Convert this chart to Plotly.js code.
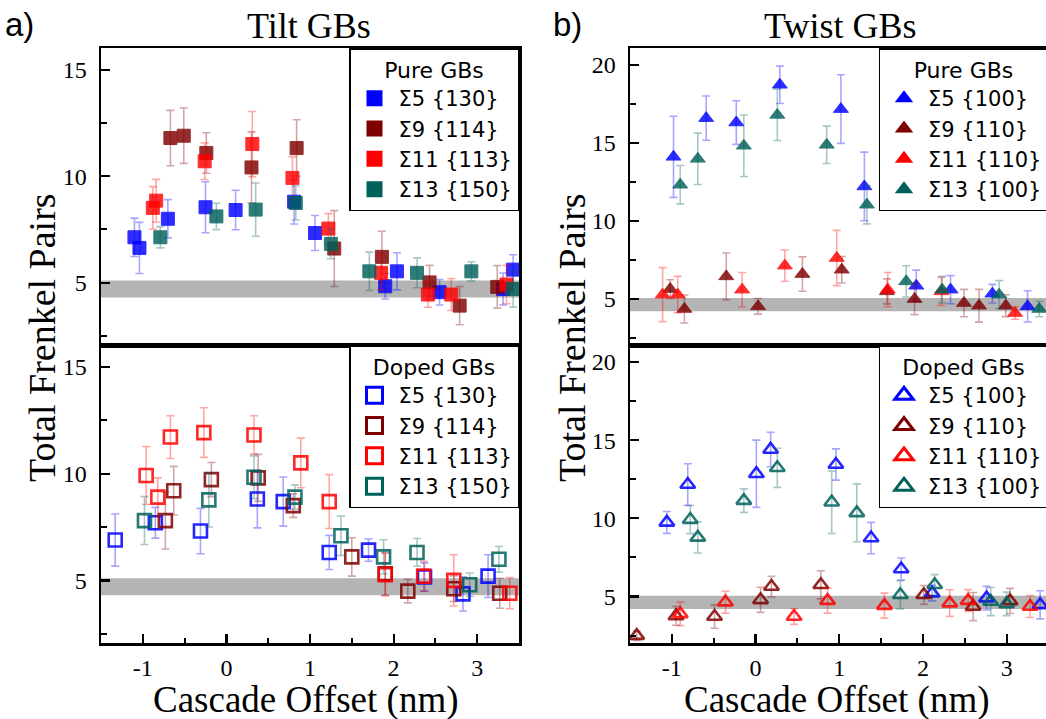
<!DOCTYPE html>
<html>
<head>
<meta charset="utf-8">
<script src="https://cdn.plot.ly/plotly-3.0.1.min.js"></script>
<style>
  html, body { margin: 0; padding: 0; background: #fff; overflow: hidden; }
  #chart { width: 1050px; height: 719px; }
</style>
</head>
<body>
<div id="chart"></div>
<script>
// ---- Tilt GBs, pure ----
const tiltPureS5X  = [-1.10, -1.04, -0.70, -0.25, 0.11, 0.81, 1.06, 1.90, 2.04, 2.55, 3.31, 3.43];
const tiltPureS5Y  = [7.13, 6.63, 8.00, 8.54, 8.41, 8.80, 7.33, 4.83, 5.53, 4.55, 4.70, 5.61];
const tiltPureS5E  = [0.90, 1.20, 0.90, 1.20, 0.93, 1.05, 0.82, 0.60, 0.87, 0.60, 0.75, 0.70];
const tiltPureS9X  = [-0.67, -0.51, -0.24, 0.30, 0.84, 1.29, 1.86, 2.43, 2.79, 3.24];
const tiltPureS9Y  = [11.79, 11.90, 11.09, 10.41, 11.32, 6.60, 6.21, 5.01, 3.92, 4.80];
const tiltPureS9E  = [1.30, 1.30, 0.95, 1.67, 1.33, 1.78, 1.20, 0.80, 0.90, 1.00];
const tiltPureS11X = [-0.88, -0.84, -0.26, 0.31, 0.79, 1.22, 1.85, 2.41, 2.69, 3.35];
const tiltPureS11Y = [8.51, 8.85, 10.70, 11.51, 9.92, 7.54, 5.46, 4.44, 4.44, 4.91];
const tiltPureS11E = [1.00, 1.00, 0.86, 1.53, 1.00, 0.70, 0.80, 0.60, 0.75, 0.90];
const tiltPureS13X = [-0.79, -0.12, 0.35, 0.83, 1.25, 1.71, 2.28, 2.93, 3.43];
const tiltPureS13Y = [7.13, 8.11, 8.43, 8.74, 6.82, 5.53, 5.46, 5.53, 4.70];
const tiltPureS13E = [0.50, 0.62, 1.25, 0.80, 0.70, 0.90, 0.70, 0.45, 0.85];

// ---- Tilt GBs, doped ----
const tiltDopedS5X  = [-1.33, -0.85, -0.31, 0.37, 0.68, 1.23, 1.70, 2.37, 2.83, 3.13];
const tiltDopedS5Y  = [6.89, 7.70, 7.31, 8.81, 8.69, 6.31, 6.42, 5.16, 4.37, 5.20];
const tiltDopedS5E  = [1.22, 0.72, 1.06, 1.35, 1.15, 0.80, 0.52, 0.66, 0.80, 1.00];
const tiltDopedS9X  = [-0.73, -0.63, -0.18, 0.38, 0.80, 1.50, 1.90, 2.17, 2.72, 3.27];
const tiltDopedS9Y  = [7.80, 9.20, 9.72, 9.80, 8.50, 6.10, 5.31, 4.50, 4.61, 4.40];
const tiltDopedS9E  = [1.33, 1.14, 0.80, 1.10, 0.55, 0.90, 1.00, 0.55, 0.60, 0.70];
const tiltDopedS11X = [-0.96, -0.82, -0.67, -0.27, 0.33, 0.89, 1.23, 1.90, 2.36, 2.72, 3.39];
const tiltDopedS11Y = [9.91, 8.90, 11.71, 11.92, 11.81, 10.50, 8.69, 5.27, 5.20, 5.00, 4.40];
const tiltDopedS11E = [1.36, 0.90, 1.00, 1.16, 0.90, 1.16, 1.26, 1.00, 0.70, 1.20, 0.73];
const tiltDopedS13X = [-0.98, -0.21, 0.33, 0.82, 1.37, 1.88, 2.28, 2.91, 3.26];
const tiltDopedS13Y = [7.80, 8.77, 9.83, 8.90, 7.09, 6.10, 6.31, 4.80, 5.99];
const tiltDopedS13E = [1.12, 1.27, 1.00, 0.57, 0.92, 0.80, 0.65, 0.55, 0.60];

// ---- Twist GBs, pure ----
const twistPureS5X  = [-0.98, -0.59, -0.23, 0.29, 1.02, 1.30, 1.92, 2.33, 2.83, 3.25];
const twistPureS5Y  = [14.10, 16.58, 16.30, 18.72, 17.16, 12.20, 5.83, 5.58, 5.32, 4.51];
const twistPureS5E  = [2.60, 1.42, 1.40, 1.20, 2.20, 2.20, 1.00, 0.90, 0.60, 1.00];
const twistPureS9X  = [-1.02, -0.85, -0.35, 0.03, 0.56, 1.03, 1.57, 1.90, 2.49, 2.67, 2.99];
const twistPureS9Y  = [5.62, 4.34, 6.43, 4.51, 6.58, 6.86, 5.47, 4.98, 4.72, 4.55, 4.55];
const twistPureS9E  = [0.60, 0.90, 1.50, 0.50, 1.10, 0.85, 0.80, 1.00, 0.88, 1.05, 0.70];
const twistPureS11X = [-1.11, -0.93, -0.16, 0.35, 0.97, 1.58, 2.22, 3.10];
const twistPureS11Y = [5.26, 5.26, 5.58, 7.12, 7.61, 5.58, 5.47, 4.08];
const twistPureS11E = [1.73, 1.17, 1.10, 1.00, 1.77, 1.10, 0.90, 0.40];
const twistPureS13X = [-0.90, -0.69, -0.14, 0.26, 0.85, 1.33, 1.80, 2.23, 2.91, 3.39];
const twistPureS13Y = [12.31, 13.97, 14.81, 16.79, 14.87, 11.03, 6.11, 5.58, 5.26, 4.34];
const twistPureS13E = [1.23, 1.65, 1.97, 1.64, 1.20, 1.23, 1.00, 0.85, 0.90, 0.50];

// ---- Twist GBs, doped ----
const twistDopedS5X  = [-1.06, -0.81, 0.01, 0.18, 0.96, 1.38, 1.74, 2.11, 2.76, 3.40];
const twistDopedS5Y  = [9.74, 12.16, 12.85, 14.40, 13.44, 8.74, 6.76, 5.22, 4.90, 4.47];
const twistDopedS5E  = [0.70, 1.33, 2.15, 1.10, 1.00, 1.00, 0.70, 0.50, 0.75, 0.90];
const twistDopedS9X  = [-1.42, -0.95, -0.49, 0.06, 0.19, 0.78, 2.01, 2.60, 3.04];
const twistDopedS9Y  = [2.50, 3.76, 3.72, 4.79, 5.64, 5.75, 5.11, 4.36, 4.72];
const twistDopedS9E  = [0.30, 0.60, 0.75, 0.80, 0.66, 0.90, 0.60, 0.90, 0.80];
const twistDopedS11X = [-0.90, -0.36, 0.46, 0.86, 1.54, 2.32, 2.54, 3.28];
const twistDopedS11Y = [3.89, 4.64, 3.72, 4.74, 4.42, 4.58, 4.74, 4.36];
const twistDopedS11E = [0.75, 0.70, 0.50, 0.80, 0.80, 0.85, 0.70, 0.70];
const twistDopedS13X = [-0.78, -0.69, -0.14, 0.26, 0.91, 1.21, 1.73, 2.14, 2.81, 3.00];
const twistDopedS13Y = [9.92, 8.78, 11.13, 13.23, 11.03, 10.35, 5.11, 5.75, 4.68, 4.53];
const twistDopedS13E = [0.90, 1.00, 0.75, 1.25, 2.00, 1.85, 0.90, 0.65, 0.90, 0.75];

// legend labels, x tick labels and reference (perfect-crystal) bands
const tiltLabels  = ['Σ5 {130}', 'Σ9 {114}', 'Σ11 {113}', 'Σ13 {150}'];
const twistLabels = ['Σ5 {100}', 'Σ9 {110}', 'Σ11 {110}', 'Σ13 {100}'];
const offsetTicks = [-1, 0, 1, 2, 3];
const offsetTickText = ['-1', '0', '1', '2', '3'];
const tiltBand  = [4.3, 5.1];
const twistBand = [4.2, 5.05];

// ---------- drawing ----------
const W = 1050, H = 719;
const COLORS = ['#0000FF', '#7F0000', '#FF0000', '#00605A'];
const ERR_COLORS = ['rgba(0,0,255,0.35)', 'rgba(127,0,0,0.35)', 'rgba(255,0,0,0.35)', 'rgba(0,96,90,0.35)'];
const SERIF = 'Liberation Serif, Times New Roman, serif';
const SANS = 'DejaVu Sans, Arial, sans-serif';

const px = v => v / W;
const py = v => 1 - v / H;

function series(xs, ys, es, i, symbol, xa, ya) {
  const open = symbol.endsWith('-open');
  return {
    type: 'scatter', mode: 'markers', x: xs, y: ys,
    xaxis: xa, yaxis: ya, showlegend: false, hoverinfo: 'x+y',
    marker: open
      ? { symbol: symbol, size: 13, color: COLORS[i], opacity: 0.85, line: { width: 2.6, color: COLORS[i] } }
      : { symbol: symbol, size: 13, color: COLORS[i], opacity: 0.82, line: { width: 1, color: COLORS[i] } },
    error_y: { type: 'data', array: es, visible: true, color: ERR_COLORS[i], thickness: 1.6, width: 4 }
  };
}

function legendKey(label, i, symbol, xa, ya, legendId) {
  const open = symbol.endsWith('-open');
  return {
    type: 'scatter', mode: 'markers', x: [null], y: [null], name: label,
    xaxis: xa, yaxis: ya, legend: legendId, showlegend: true, hoverinfo: 'skip',
    marker: { symbol: symbol, size: 20, color: COLORS[i], line: { width: open ? 3 : 0, color: COLORS[i] } }
  };
}

const groups = [
  { xa: 'x2', ya: 'y2', sym: 'square',           leg: 'legend',  labels: tiltLabels,
    d: [[tiltPureS5X, tiltPureS5Y, tiltPureS5E], [tiltPureS9X, tiltPureS9Y, tiltPureS9E],
        [tiltPureS11X, tiltPureS11Y, tiltPureS11E], [tiltPureS13X, tiltPureS13Y, tiltPureS13E]] },
  { xa: 'x',  ya: 'y',  sym: 'square-open',      leg: 'legend2', labels: tiltLabels,
    d: [[tiltDopedS5X, tiltDopedS5Y, tiltDopedS5E], [tiltDopedS9X, tiltDopedS9Y, tiltDopedS9E],
        [tiltDopedS11X, tiltDopedS11Y, tiltDopedS11E], [tiltDopedS13X, tiltDopedS13Y, tiltDopedS13E]] },
  { xa: 'x3', ya: 'y3', sym: 'triangle-up',      leg: 'legend3', labels: twistLabels,
    d: [[twistPureS5X, twistPureS5Y, twistPureS5E], [twistPureS9X, twistPureS9Y, twistPureS9E],
        [twistPureS11X, twistPureS11Y, twistPureS11E], [twistPureS13X, twistPureS13Y, twistPureS13E]] },
  { xa: 'x4', ya: 'y4', sym: 'triangle-up-open', leg: 'legend4', labels: twistLabels,
    d: [[twistDopedS5X, twistDopedS5Y, twistDopedS5E], [twistDopedS9X, twistDopedS9Y, twistDopedS9E],
        [twistDopedS11X, twistDopedS11Y, twistDopedS11E], [twistDopedS13X, twistDopedS13Y, twistDopedS13E]] }
];

const traces = [];
groups.forEach(g => {
  g.d.forEach((s, i) => traces.push(series(s[0], s[1], s[2], i, g.sym, g.xa, g.ya)));
  g.labels.forEach((lab, i) => traces.push(legendKey(lab, i, g.sym, g.xa, g.ya, g.leg)));
});

const axisBase = {
  showline: true, linecolor: '#000', linewidth: 2.5, mirror: true,
  showgrid: false, zeroline: false, fixedrange: true,
  ticks: 'inside', ticklen: 9, tickwidth: 2.2, tickcolor: '#000',
  tickfont: { family: SERIF, size: 24, color: '#000' }
};
const xBottom = Object.assign({}, axisBase, {
  range: [-1.5, 3.5], tickmode: 'array', tickvals: offsetTicks, ticktext: offsetTickText,
  ticklabelstandoff: 2,
  minor: { ticks: 'inside', ticklen: 5, tickwidth: 2, tickcolor: '#000', dtick: 0.5, tick0: 0 }
});
const xTop = Object.assign({}, axisBase, { range: [-1.5, 3.5], ticks: '', showticklabels: false });
const yTilt = Object.assign({}, axisBase, {
  range: [2.07, 16.02], tick0: 0, dtick: 5, ticklabelstandoff: 7,
  minor: { ticks: 'inside', ticklen: 6, tickwidth: 2, tickcolor: '#000', dtick: 2.5, tick0: 0 }
});
const yTwist = Object.assign({}, axisBase, {
  range: [2.03, 21.08], tick0: 0, dtick: 5, ticklabelstandoff: 7,
  minor: { ticks: 'inside', ticklen: 6, tickwidth: 2, tickcolor: '#000', dtick: 2.5, tick0: 0 }
});

const domA = [px(101), px(519)];
const domB = [px(630), px(1048.5)];
const domTop = [py(345), py(48)];
const domBot = [py(643), py(345)];

function legendBox(title, yTop, xRight) {
  return {
    x: xRight, xanchor: 'right', y: yTop, yanchor: 'top',
    bgcolor: '#fff', bordercolor: '#000', borderwidth: 1.5,
    font: { family: SANS, size: 21, color: '#000' },
    title: { text: title, side: 'top center', font: { family: SANS, size: 22, color: '#000' } },
    traceorder: 'normal', itemwidth: 38, tracegroupgap: 0
  };
}

function band(xref, yref, b) {
  return { type: 'rect', xref: xref + ' domain', yref: yref, x0: 0, x1: 1, y0: b[0], y1: b[1],
           fillcolor: '#b4b4b4', line: { width: 0 }, layer: 'below' };
}

function label(text, x, y, size, family, opts) {
  return Object.assign({ text: text, xref: 'paper', yref: 'paper', x: x, y: y, showarrow: false,
    xanchor: 'center', yanchor: 'middle', font: { family: family, size: size, color: '#000' } }, opts || {});
}

const layout = {
  width: W, height: H, margin: { l: 0, r: 0, t: 0, b: 0 },
  paper_bgcolor: '#fff', plot_bgcolor: '#fff',
  xaxis:  Object.assign({}, xBottom, { domain: domA, anchor: 'y' }),
  yaxis:  Object.assign({}, yTilt,   { domain: domBot, anchor: 'x' }),
  xaxis2: Object.assign({}, xTop,    { domain: domA, anchor: 'y2' }),
  yaxis2: Object.assign({}, yTilt,   { domain: domTop, anchor: 'x2' }),
  xaxis3: Object.assign({}, xTop,    { domain: domB, anchor: 'y3' }),
  yaxis3: Object.assign({}, yTwist,  { domain: domTop, anchor: 'x3' }),
  xaxis4: Object.assign({}, xBottom, { domain: domB, anchor: 'y4' }),
  yaxis4: Object.assign({}, yTwist,  { domain: domBot, anchor: 'x4' }),
  legend:  legendBox('Pure GBs',  py(48),  px(519)),
  legend2: legendBox('Doped GBs', py(345), px(519)),
  legend3: legendBox('Pure GBs',  py(48),  px(1048.5)),
  legend4: legendBox('Doped GBs', py(345), px(1048.5)),
  shapes: [
    band('x2', 'y2', tiltBand), band('x', 'y', tiltBand),
    band('x3', 'y3', twistBand), band('x4', 'y4', twistBand)
  ],
  annotations: [
    label('a)', px(3), py(24), 33, 'Liberation Sans, Arial, sans-serif', { xanchor: 'left' }),
    label('b)', px(551), py(24), 33, 'Liberation Sans, Arial, sans-serif', { xanchor: 'left' }),
    label('Tilt GBs', px(309), py(26), 36, SERIF),
    label('Twist GBs', px(840), py(26), 36, SERIF),
    label('Total Frenkel Pairs', px(42), py(338), 38, SERIF, { textangle: -90 }),
    label('Total Frenkel Pairs', px(572), py(338), 38, SERIF, { textangle: -90 }),
    label('Cascade Offset (nm)', px(306), py(700), 37, SERIF),
    label('Cascade Offset (nm)', px(837), py(700), 37, SERIF)
  ]
};

Plotly.newPlot('chart', traces, layout, { staticPlot: true, displayModeBar: false });
</script>
</body>
</html>
